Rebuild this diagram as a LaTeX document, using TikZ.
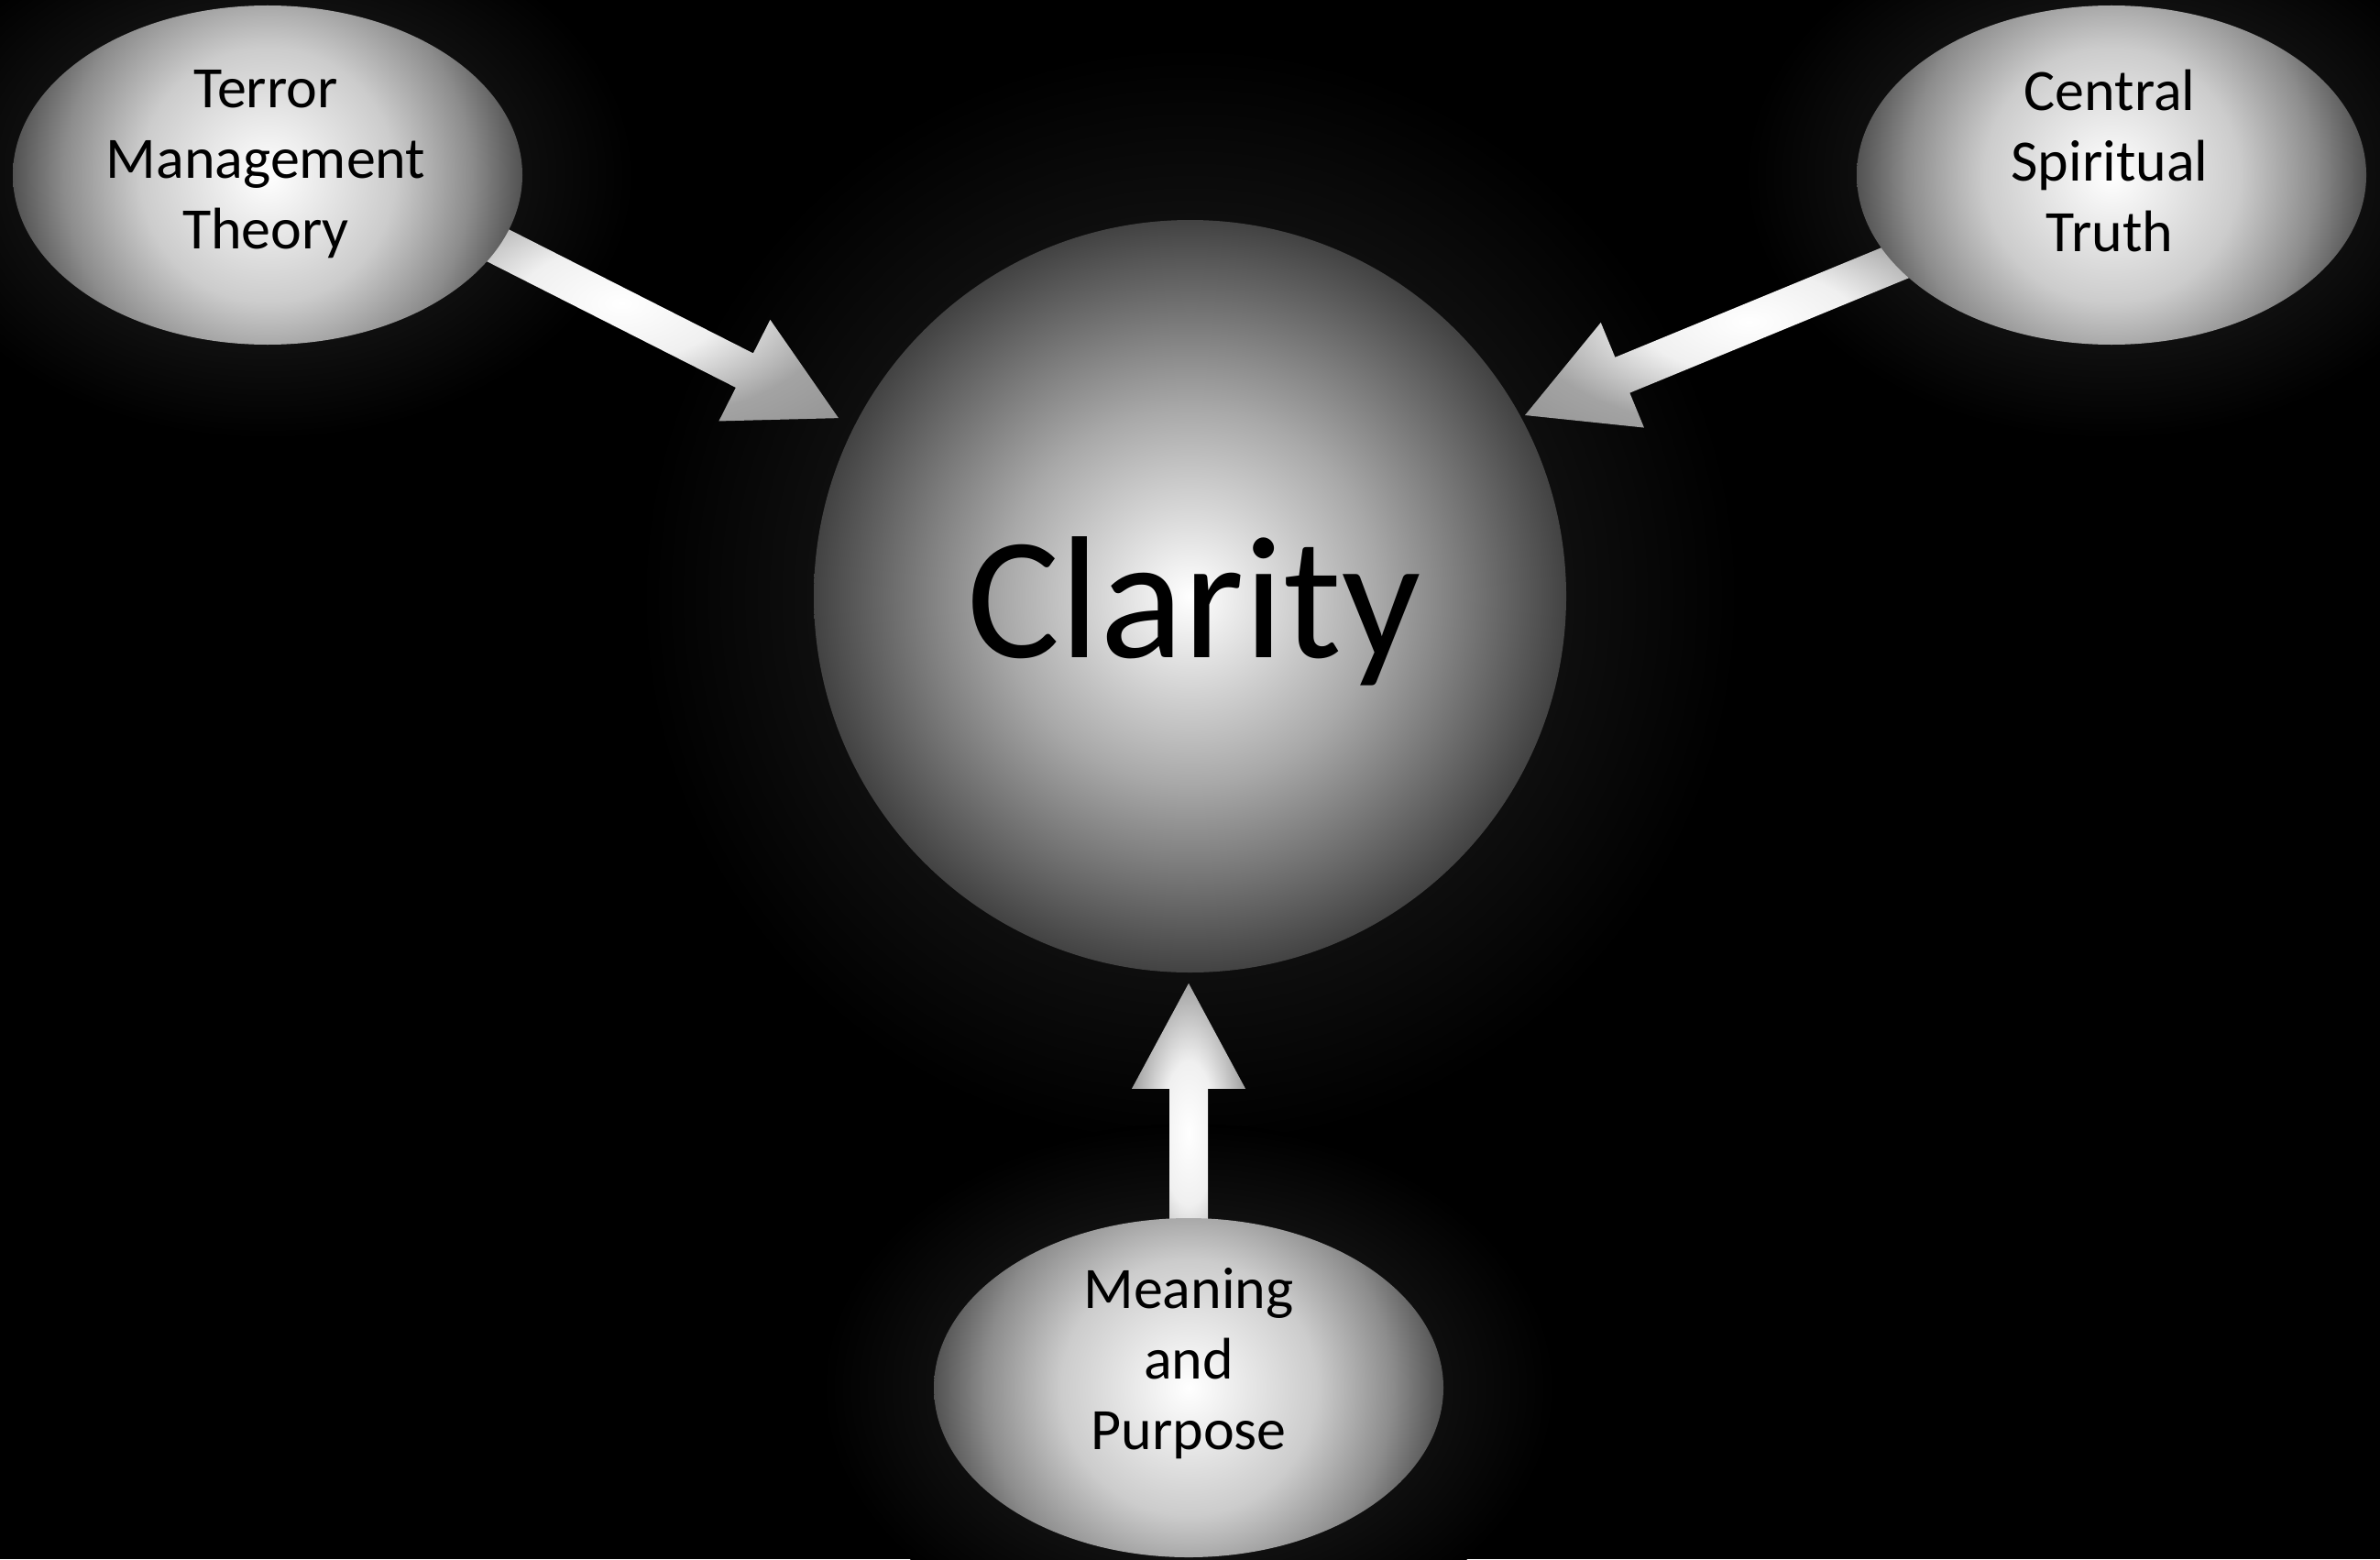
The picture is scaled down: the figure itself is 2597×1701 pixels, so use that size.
\documentclass[tikz,border=0pt]{standalone}
\usepackage{fontspec}
\setmainfont{Carlito}
\usetikzlibrary{shapes.geometric,calc}
\pgfdeclareradialshading{orbmain}{\pgfpoint{0bp}{0bp}}{rgb(0bp)=(1,1,1);rgb(12.5bp)=(0.66,0.66,0.66);rgb(25bp)=(0.26,0.26,0.26);rgb(50bp)=(0.26,0.26,0.26)}
\pgfdeclareradialshading{orbell}{\pgfpoint{0bp}{0bp}}{rgb(0bp)=(1,1,1);rgb(12.5bp)=(0.80,0.80,0.80);rgb(20bp)=(0.55,0.55,0.55);rgb(25bp)=(0.32,0.32,0.32);rgb(50bp)=(0.32,0.32,0.32)}
\pgfdeclareradialshading{arrowsh}{\pgfpoint{0bp}{0bp}}{rgb(0bp)=(1,1,1);rgb(12bp)=(0.94,0.94,0.94);rgb(25bp)=(0.64,0.64,0.64);rgb(50bp)=(0.5,0.5,0.5)}
\pgfdeclareradialshading{glowsh}{\pgfpoint{0bp}{0bp}}{rgb(0bp)=(0.09,0.09,0.09);rgb(15bp)=(0.07,0.07,0.07);rgb(25bp)=(0,0,0);rgb(50bp)=(0,0,0)}
\pgfdeclarelayer{bglayer}
\pgfdeclarelayer{arrowlayer}
\pgfsetlayers{bglayer,arrowlayer,main}
\newcommand\blockarrow[3]{%
  \coordinate (#1h) at ($(#3)!28.75pt!(#2)$);
  \shade[shading=arrowsh]
    ($(#2)!5.25pt!90:(#3)$) -- ($(#1h)!5.25pt!90:(#3)$) -- ($(#1h)!15.5pt!90:(#3)$)
    -- (#3) -- ($(#1h)!15.5pt!-90:(#3)$) -- ($(#1h)!5.25pt!-90:(#3)$)
    -- ($(#2)!5.25pt!-90:(#3)$) -- cycle;
}
\begin{document}
\begin{tikzpicture}[x=0.25pt,y=-0.25pt,
  orbnode/.style={ellipse, inner sep=0pt, minimum width=139pt, minimum height=92.5pt,
     path picture={\shade[shading=orbell] (path picture bounding box.center) circle (69.5pt);}},
  mainorb/.style={circle, inner sep=0pt, minimum size=205.25pt,
     path picture={\shade[shading=orbmain] (path picture bounding box.center) circle (102.625pt);}},
  lbl/.style={align=center, font=\fontsize{16}{19.25}\selectfont, text=black, inner sep=0pt},
]
\useasboundingbox (0,0) rectangle (2597,1701);
\begin{pgfonlayer}{bglayer}
\fill[black] (0,0) rectangle (2597,1701);
\end{pgfonlayer}

% main nodes
\node[mainorb] (clar) at (1298.5,650.5) {};
\node[orbnode] (tmt) at (292,191) {};
\node[orbnode] (cs) at (2304,191) {};
\node[orbnode] (mp) at (1297,1514) {};

% glows
\begin{pgfonlayer}{bglayer}
\shade[shading=glowsh] (clar.center) circle (150pt);
\shade[shading=glowsh] (tmt.center) ellipse (100pt and 72pt);
\shade[shading=glowsh] (cs.center) ellipse (100pt and 72pt);
\shade[shading=glowsh] (mp.center) ellipse (100pt and 72pt);
\end{pgfonlayer}

% connectors
\coordinate (s1) at ($(tmt.center)+(159,30)$);
\coordinate (t1) at ($(clar.center)!107.5pt!(s1)$);
\coordinate (s2) at ($(cs.center)+(-159,64)$);
\coordinate (t2) at (1664,453);
\coordinate (s3) at ($(mp.center)+(0,-114)$);
\coordinate (t3) at ($(mp.center |- clar.south)+(0,11)$);
\begin{pgfonlayer}{arrowlayer}
\blockarrow{a1}{s1}{t1}
\blockarrow{a2}{s2}{t2}
\blockarrow{a3}{s3}{t3}
\end{pgfonlayer}

% labels
\node[lbl] (tmtl) at (290,179.5) {Terror\\Management\\Theory};
\node[lbl] (cstl) at (2302,176) {Central\\Spiritual\\Truth};
\node[lbl] (mpl) at (1297,1488) {Meaning\\and\\Purpose};
\node[font=\fontsize{47.5}{55}\selectfont, anchor=base, inner sep=0pt] (clarl) at (1303,717) {Clarity};
\end{tikzpicture}
\end{document}
